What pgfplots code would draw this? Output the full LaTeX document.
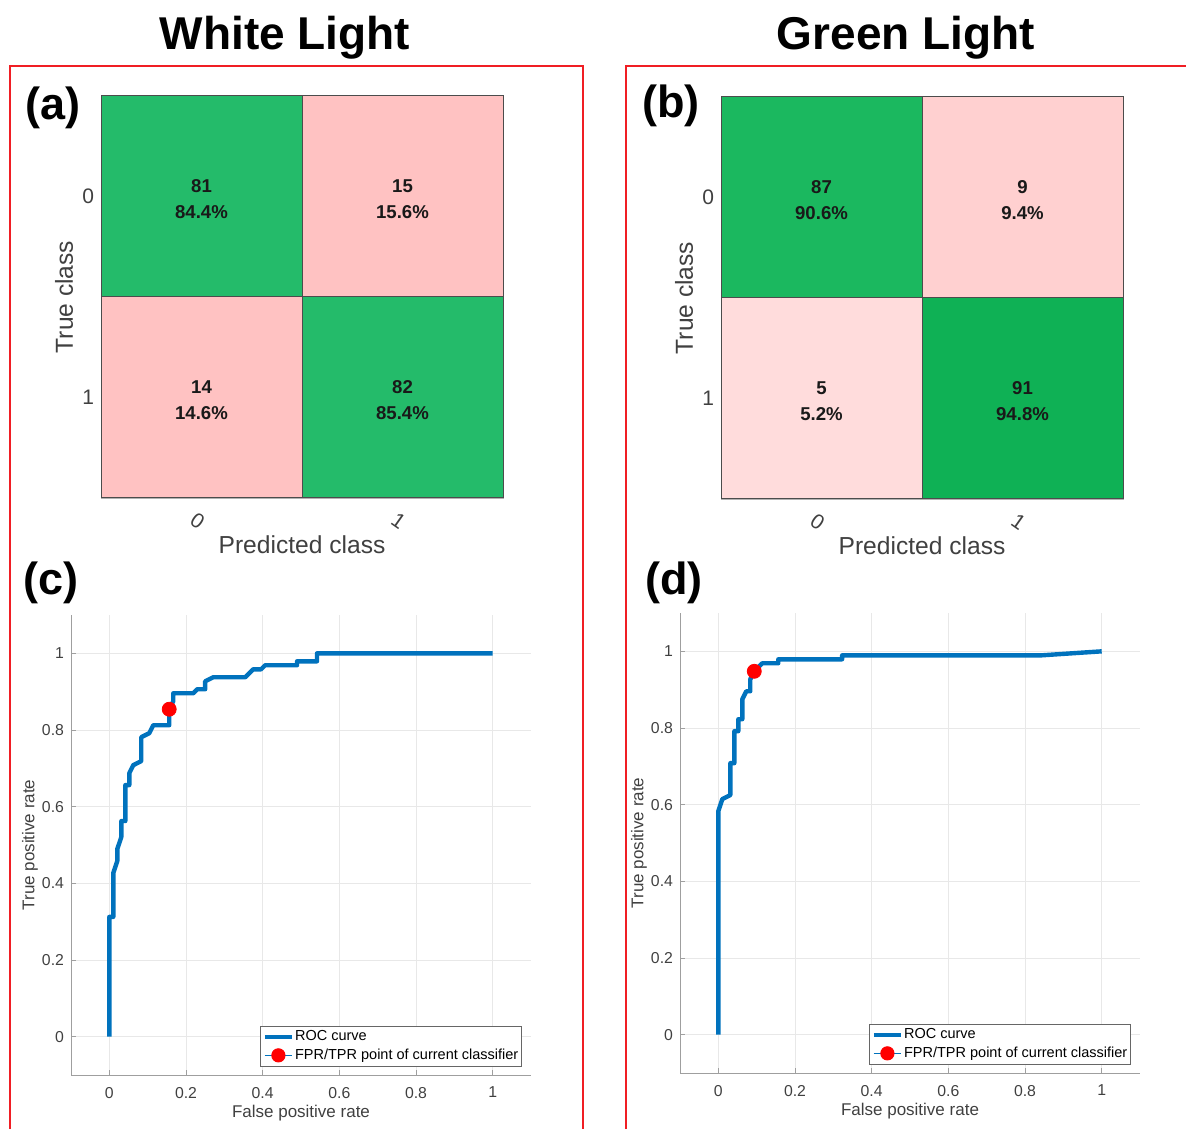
\documentclass[border=0pt]{standalone}
\usepackage{pgfplots}
\pgfplotsset{compat=1.18}
\usepackage{fontspec}
\setmainfont{Liberation Sans}

\definecolor{cmgreenA}{RGB}{36,187,106}
\definecolor{cmpinkA}{RGB}{255,194,194}
\definecolor{cmgreenBa}{RGB}{27,184,95}
\definecolor{cmgreenBb}{RGB}{15,177,85}
\definecolor{cmpinkBa}{RGB}{255,208,208}
\definecolor{cmpinkBb}{RGB}{255,220,220}
\definecolor{rocblue}{RGB}{0,114,189}
\definecolor{axgray}{RGB}{64,64,64}
\definecolor{framered}{RGB}{240,30,36}

\tikzset{
  celltext/.style={font=\fontsize{9.3}{13}\selectfont\bfseries, align=center,
    text=black!90, yshift=-1.5pt},
}

\pgfplotsset{
  confmat/.style={
    scale only axis, width=201pt, height=201pt,
    xmin=-0.5, xmax=1.5, ymin=-0.5, ymax=1.5, y dir=reverse,
    xtick={0,1}, ytick={0,1}, major tick length=0pt,
    axis line style={draw=gray!60},
    tick label style={font=\fontsize{10.5}{12}\selectfont, text=axgray},
    xticklabel style={anchor=center, yshift=-11.5pt, xshift=-2pt, rotate=-35},
    label style={font=\fontsize{12.3}{14}\selectfont, text=axgray},
    xlabel={Predicted class}, ylabel={True class},
    x label style={at={(axis description cs:0.5,-0.117)}, anchor=center},
    y label style={at={(axis description cs:-0.092,0.5)}, anchor=center},
    /pgf/number format/assume math mode=true,
    clip=false,
  },
  cell/.style={draw=black!70, line width=0.5pt},
  roc/.style={
    scale only axis, width=230pt, height=230pt,
    xmin=-0.1, xmax=1.1, ymin=-0.1, ymax=1.1,
    xtick={0,0.2,0.4,0.6,0.8,1}, ytick={0,0.2,0.4,0.6,0.8,1},
    axis x line*=bottom, axis y line*=left,
    axis line style={draw=gray!75, line width=0.5pt, -},
    grid=major, major grid style={draw=gray!18, line width=0.4pt},
    tick align=inside, major tick length=2.5pt, tick style={draw=gray!75},
    tick label style={font=\fontsize{7.9}{9}\selectfont, text=axgray},
    xticklabel style={yshift=-2.5pt},
    label style={font=\fontsize{8.5}{10}\selectfont, text=axgray},
    xlabel={False positive rate}, ylabel={True positive rate},
    x label style={at={(axis description cs:0.5,-0.083)}, anchor=center},
    y label style={at={(axis description cs:-0.089,0.5)}, anchor=center},
    /pgf/number format/assume math mode=true,
    legend cell align=left,
    legend style={at={(axis description cs:1,0)}, anchor=south east,
      xshift=-4.5pt, yshift=4pt, draw=gray!80!black, line width=0.5pt,
      font=\fontsize{7.25}{8.5}\selectfont, inner xsep=1pt, inner ysep=1pt,
      nodes={inner xsep=0.6pt, inner ysep=1.2pt},
      row sep=0pt, text=black},
  },
  rocline/.style={rocblue, line width=2.2pt, line join=round,
    legend image code/.code={\draw[rocblue, line width=2pt] (0pt,0pt) -- (13.5pt,0pt);}},
  rocpoint/.style={only marks, mark=*, mark size=3.5pt, color=red, fill=red,
    legend image code/.code={\draw[rocblue, line width=0.5pt] (0pt,0pt) -- (13.5pt,0pt);
      \fill[red] (6.75pt,0pt) circle (3.3pt);}},
}

\begin{document}
\begin{tikzpicture}
\useasboundingbox (0,0) rectangle (593pt,564.5pt);

% ---------- (a) confusion matrix, white light ----------
\begin{axis}[confmat, at={(50.5pt,315.5pt)}, anchor=south west]
  \addplot[cell, fill=cmgreenA] coordinates {(-0.5,-0.5) (0.5,-0.5) (0.5,0.5) (-0.5,0.5)} -- cycle;
  \addplot[cell, fill=cmpinkA]  coordinates {(0.5,-0.5) (1.5,-0.5) (1.5,0.5) (0.5,0.5)} -- cycle;
  \addplot[cell, fill=cmpinkA]  coordinates {(-0.5,0.5) (0.5,0.5) (0.5,1.5) (-0.5,1.5)} -- cycle;
  \addplot[cell, fill=cmgreenA] coordinates {(0.5,0.5) (1.5,0.5) (1.5,1.5) (0.5,1.5)} -- cycle;
  \node[celltext] at (axis cs:0,0) {81\\84.4\%};
  \node[celltext] at (axis cs:1,0) {15\\15.6\%};
  \node[celltext] at (axis cs:0,1) {14\\14.6\%};
  \node[celltext] at (axis cs:1,1) {82\\85.4\%};
\end{axis}

% ---------- (b) confusion matrix, green light ----------
\begin{axis}[confmat, at={(360.5pt,315pt)}, anchor=south west]
  \addplot[cell, fill=cmgreenBa] coordinates {(-0.5,-0.5) (0.5,-0.5) (0.5,0.5) (-0.5,0.5)} -- cycle;
  \addplot[cell, fill=cmpinkBa]  coordinates {(0.5,-0.5) (1.5,-0.5) (1.5,0.5) (0.5,0.5)} -- cycle;
  \addplot[cell, fill=cmpinkBb]  coordinates {(-0.5,0.5) (0.5,0.5) (0.5,1.5) (-0.5,1.5)} -- cycle;
  \addplot[cell, fill=cmgreenBb] coordinates {(0.5,0.5) (1.5,0.5) (1.5,1.5) (0.5,1.5)} -- cycle;
  \node[celltext] at (axis cs:0,0) {87\\90.6\%};
  \node[celltext] at (axis cs:1,0) {9\\9.4\%};
  \node[celltext] at (axis cs:0,1) {5\\5.2\%};
  \node[celltext] at (axis cs:1,1) {91\\94.8\%};
\end{axis}

% ---------- (c) ROC, white light ----------
\begin{axis}[roc, at={(35.5pt,27pt)}, anchor=south west]
  \addplot[rocline] coordinates {
    (0,0) (0,0.3125) (0.0104,0.3125) (0.0104,0.4271) (0.0208,0.4583)
    (0.0208,0.4896) (0.0313,0.5208) (0.0313,0.5625) (0.0417,0.5625)
    (0.0417,0.6563) (0.0521,0.6563) (0.0521,0.6875) (0.0625,0.7083)
    (0.0833,0.7188) (0.0833,0.7813) (0.1042,0.7917) (0.1146,0.8125)
    (0.1563,0.8125) (0.1563,0.8542) (0.1667,0.8750) (0.1667,0.8958)
    (0.2188,0.8958) (0.2292,0.9063) (0.2500,0.9063) (0.2500,0.9271)
    (0.2708,0.9375) (0.3542,0.9375) (0.3750,0.9583) (0.3958,0.9583)
    (0.4063,0.9688) (0.4896,0.9688) (0.4896,0.9792) (0.5417,0.9792)
    (0.5417,1) (1,1)};
  \addlegendentry{ROC curve}
  \addplot[rocpoint] coordinates {(0.15625,0.85417)};
  \addlegendentry{FPR/TPR point of current classifier}
\end{axis}

% ---------- (d) ROC, green light ----------
\begin{axis}[roc, at={(340pt,28pt)}, anchor=south west]
  \addplot[rocline] coordinates {
    (0,0) (0,0.5833) (0.0104,0.6146) (0.0313,0.6250) (0.0313,0.7083)
    (0.0417,0.7083) (0.0417,0.7917) (0.0521,0.7917) (0.0521,0.8229)
    (0.0625,0.8229) (0.0625,0.8750) (0.0729,0.8958) (0.0833,0.8958)
    (0.0833,0.9271) (0.0938,0.9479) (0.1146,0.9688) (0.1563,0.9688)
    (0.1563,0.9792) (0.3229,0.9792) (0.3229,0.9896) (0.8438,0.9896)
    (1,1)};
  \addlegendentry{ROC curve}
  \addplot[rocpoint] coordinates {(0.09375,0.94792)};
  \addlegendentry{FPR/TPR point of current classifier}
\end{axis}

% ---------- panel letters ----------
\begin{scope}[every node/.style={font=\fontsize{22.5}{26}\selectfont\bfseries, anchor=base west, inner sep=0pt}]
  \node at (12.5pt,504.5pt) {(a)};
  \node at (321pt,505.5pt) {(b)};
  \node at (11.5pt,267pt) {(c)};
  \node at (322.5pt,267pt) {(d)};
\end{scope}

% ---------- column titles ----------
\node[font=\fontsize{23}{27}\selectfont\bfseries, anchor=base] at (142.5pt,539.5pt) {White Light};
\node[font=\fontsize{23}{27}\selectfont\bfseries, anchor=base] at (453pt,539.5pt) {Green Light};

% ---------- red frames ----------
\draw[framered, line width=1pt] (5pt,0pt) -- (5pt,531.5pt) -- (291.5pt,531.5pt) -- (291.5pt,0pt);
\draw[framered, line width=1pt] (313pt,0pt) -- (313pt,531.5pt) -- (593pt,531.5pt);
\end{tikzpicture}
\end{document}
